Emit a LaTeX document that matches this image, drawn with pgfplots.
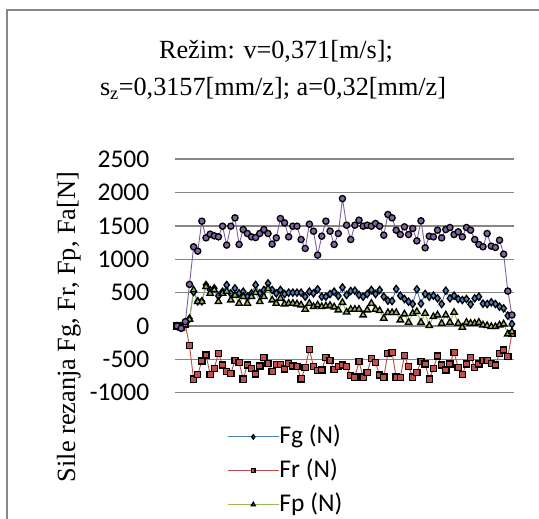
\documentclass[border=0pt]{standalone}
\usepackage{fontspec}
\setmainfont{Liberation Serif}
\newfontfamily\calibri{Carlito}
\usepackage{pgfplots}
\pgfplotsset{compat=1.18}
\usepackage{pgfplotstable}

\definecolor{gridgray}{RGB}{134,134,134}
\definecolor{fgline}{RGB}{74,126,187}
\definecolor{fgfill}{RGB}{79,129,189}
\definecolor{frline}{RGB}{190,75,72}
\definecolor{frfill}{RGB}{192,80,77}
\definecolor{fpline}{RGB}{152,185,84}
\definecolor{fpfill}{RGB}{155,187,89}
\definecolor{faline}{RGB}{125,96,160}
\definecolor{fafill}{RGB}{128,100,162}

% i = sample index, forces in N
\pgfplotstableread{
i fg fr fp fa
1 0 0 -20 0
2 -10 -10 -30 -35
3 30 20 20 65
4 110 -294 100 624
5 510 -798 540 1188
6 370 -724 365 1123
7 370 -524 365 1572
8 615 -434 590 1322
9 540 -724 490 1377
10 565 -634 540 1352
11 450 -409 365 1337
12 515 -584 490 1497
13 615 -684 520 1213
14 490 -709 390 1497
15 565 -519 460 1622
16 490 -549 340 1223
17 515 -798 440 1447
18 440 -584 340 1387
19 490 -634 440 1337
20 615 -719 500 1327
21 490 -599 365 1387
22 540 -474 440 1447
23 640 -559 560 1387
24 540 -684 390 1228
25 490 -574 340 1322
26 540 -574 415 1612
27 480 -644 330 1547
28 500 -559 340 1337
29 500 -599 340 1497
30 500 -609 330 1497
31 500 -793 315 1297
32 440 -624 250 1163
33 515 -349 340 1527
34 490 -609 290 1422
35 550 -669 315 1063
36 440 -659 290 1347
37 440 -469 300 1572
38 480 -519 308 1422
39 515 -649 285 1223
40 450 -609 240 1387
41 578 -584 352 1911
42 465 -609 208 1512
43 525 -744 250 1297
44 530 -768 250 1512
45 465 -534 250 1587
46 440 -768 165 1497
47 480 -694 240 1512
48 540 -484 340 1497
49 480 -549 250 1537
50 540 -734 230 1497
51 440 -768 115 1362
52 380 -409 200 1672
53 375 -394 200 1622
54 555 -768 200 1437
55 455 -773 90 1372
56 405 -444 180 1487
57 365 -609 55 1372
58 330 -768 190 1462
59 550 -699 215 1277
60 335 -534 55 1577
61 480 -569 190 1173
62 440 -798 5 1347
63 455 -634 140 1337
64 415 -449 165 1437
65 330 -584 40 1322
66 530 -659 165 1447
67 415 -569 55 1477
68 455 -394 205 1372
69 405 -624 40 1412
70 390 -724 -20 1337
71 405 -569 55 1477
72 325 -469 40 1437
73 415 -624 40 1297
74 440 -569 55 1223
75 335 -519 15 1188
76 330 -519 5 1387
77 355 -559 -10 1198
78 330 -584 -10 1178
79 290 -410 15 1287
80 265 -360 30 1078
81 155 -460 -120 524
82 30 -110 -85 165
}\sile

\begin{document}
\begin{tikzpicture}[x=1bp,y=1bp]
\useasboundingbox (0,0) rectangle (539,519);
\draw[gridgray, line width=2bp] (7,-5) -- (7,508.7) -- (545,508.7);
\node[anchor=base, inner sep=0pt] at (276,460) {\rmfamily\fontsize{26.3}{30}\selectfont Režim: v=0,371[m/s];};
\node[anchor=base, inner sep=0pt] at (273,423) {\rmfamily\fontsize{26.3}{30}\selectfont s\textsubscript{z}=0,3157[mm/z]; a=0,32[mm/z]};
\begin{axis}[
    at={(175bp,126.3bp)}, anchor=south west,
    scale only axis, width=339bp, height=233.4bp,
    xmin=0.5, xmax=82.5, ymin=-1000, ymax=2500,
    axis line style={draw=none},
    xtick=\empty,
    ytick={-1000,-500,0,500,1000,1500,2000,2500},
    yticklabel={\calibri\fontsize{25.6}{30}\selectfont\pgfmathprintnumber[assume math mode=true, 1000 sep={}, int detect]{\tick}},
    major tick length=0pt,
    ymajorgrids,
    grid style={gridgray, line width=1.6bp},
    yticklabel style={anchor=east, inner sep=0pt, xshift=-25.5bp},
    ylabel={Sile rezanja Fg, Fr, Fp, Fa[N]},
    ylabel style={at={(axis description cs:-0.3133,0.2815)}, anchor=center, inner sep=0pt, font=\rmfamily\fontsize{26.4}{30}\selectfont},
    clip=false,
    every axis plot/.append style={line width=0.9bp},
    legend image code/.code={\draw[mark repeat=2, mark phase=2, #1, every mark/.append style={scale=0.6}] plot coordinates {(0bp,0bp) (25.75bp,0bp) (51.5bp,0bp)};},
    legend style={at={(axis description cs:0.153,-0.135)}, anchor=north west, draw=none, fill=none, inner sep=0pt,
        font=\calibri\fontsize{25.6}{30}\selectfont, row sep=8.8bp,
        nodes={inner sep=0pt, text height=19bp, text depth=6bp},
        /tikz/every even column/.append style={column sep=7bp}},
    legend cell align=left,
]
\addplot[fgline, mark=diamond*, mark size=3.6bp, mark options={fill=fgfill, draw=black, line width=1.3bp}] table[x=i, y=fg] {\sile};
\addplot[frline, mark=square*, mark size=3.1bp, mark options={fill=frfill, draw=black, line width=1.3bp}] table[x=i, y=fr] {\sile};
\addplot[fpline, mark=triangle*, mark size=3.7bp, mark options={fill=fpfill, draw=black, line width=1.3bp}] table[x=i, y=fp] {\sile};
\addplot[faline, mark=*, mark size=3.1bp, mark options={fill=fafill, draw=black, line width=1.3bp}] table[x=i, y=fa] {\sile};
\legend{Fg (N), Fr (N), Fp (N)}
\end{axis}
\end{tikzpicture}
\end{document}
